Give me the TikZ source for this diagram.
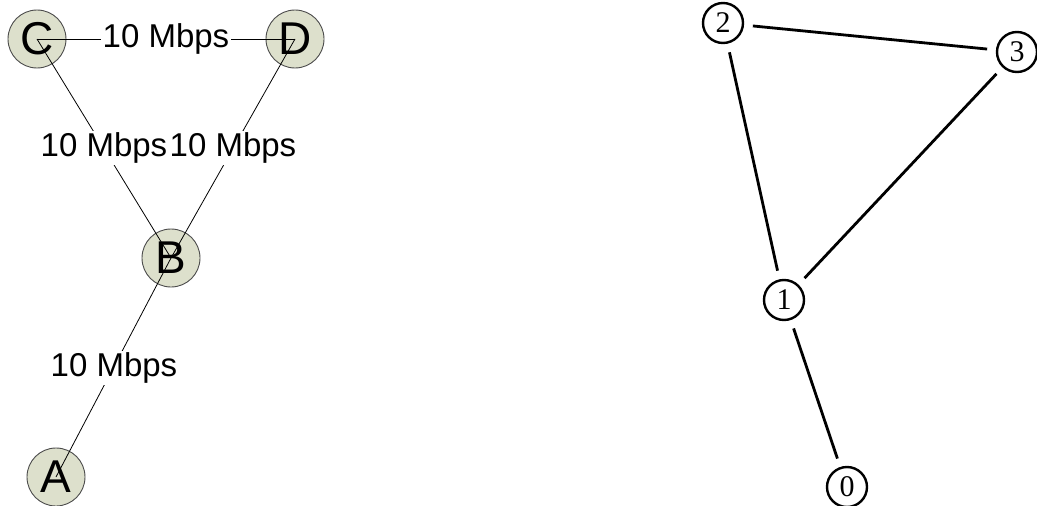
\documentclass[tikz,border=0pt]{standalone}
\usepackage{fontspec}
\setmainfont{Liberation Sans}
\newfontfamily\serifnum{Liberation Serif}
\begin{document}
\begin{tikzpicture}[x=1pt,y=-1pt,
  host/.style={circle,draw=black!70,line width=0.9pt,fill=olivegray,minimum size=58pt,inner sep=0pt,font=\fontsize{46}{50}\selectfont},
  link/.style={line width=0.8pt,black},
  rate/.style={fill=white,inner sep=1.5pt,font=\fontsize{33}{38}\selectfont},
  vert/.style={circle,draw=black,line width=2.4pt,minimum size=40pt,inner sep=0pt,font=\serifnum\fontsize{30}{32}\selectfont},
  edge/.style={line width=2.8pt,black,shorten >=30pt,shorten <=30pt}]
\definecolor{olivegray}{RGB}{221,224,204}
\useasboundingbox (0,0) rectangle (1037,506);
% left network
\node[host] (C) at (37,39) {};
\node[host] (D) at (295,39) {};
\node[host] (B) at (171,258) {};
\node[host] (A) at (56,477) {};
\draw[link] (C.center) -- (D.center);
\draw[link] (C.center) -- (B.center);
\draw[link] (D.center) -- (B.center);
\draw[link] (B.center) -- (A.center);
\node[font=\fontsize{46}{50}\selectfont] (Ct) at (C) {C};
\node[font=\fontsize{46}{50}\selectfont] (Dt) at (D) {D};
\node[font=\fontsize{46}{50}\selectfont] (Bt) at (B) {B};
\node[font=\fontsize{46}{50}\selectfont] (At) at (A) {A};
\node[rate] (lCD) at (166,39) {10 Mbps};
\node[rate] (lCB) at (104,148) {10 Mbps};
\node[rate] (lDB) at (233,148) {10 Mbps};
\node[rate] (lBA) at (114,368) {10 Mbps};
% right graph
\node[vert] (n2) at (723,23) {2};
\node[vert] (n3) at (1017,52) {3};
\node[vert] (n1) at (784,300) {1};
\node[vert] (n0) at (847,487) {0};
\draw[edge] (n2.center) -- (n3.center);
\draw[edge] (n2.center) -- (n1.center);
\draw[edge] (n3.center) -- (n1.center);
\draw[edge] (n1.center) -- (n0.center);
\end{tikzpicture}
\end{document}
